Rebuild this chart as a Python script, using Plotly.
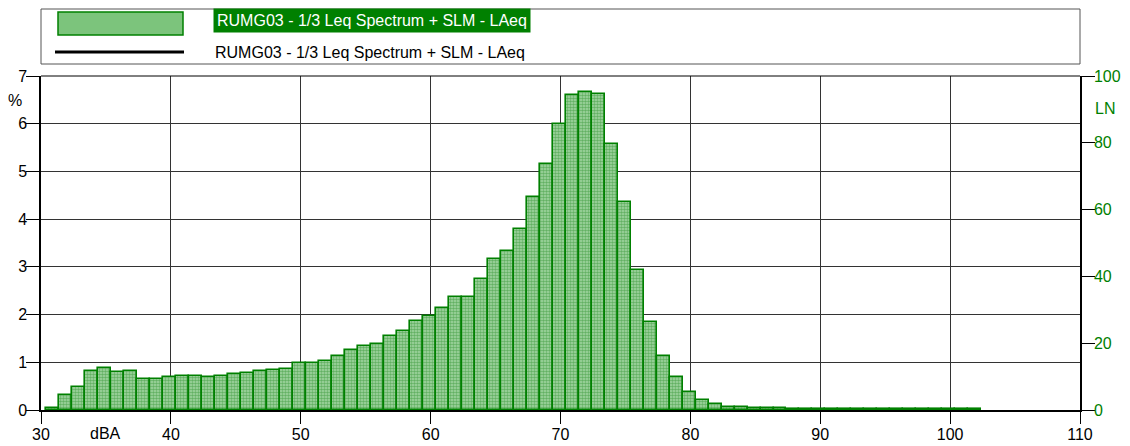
import plotly.graph_objects as go

# dBA level of each 1-dB class (bar drawn from level-0.6 to level+0.4)
levels_dba = list(range(31, 103))
percent = [
    0.04, 0.32, 0.49, 0.82, 0.87, 0.79, 0.82, 0.64, 0.64, 0.70,   # 31-40
    0.72, 0.71, 0.70, 0.71, 0.76, 0.78, 0.82, 0.84, 0.85, 0.98,   # 41-50
    0.98, 1.03, 1.13, 1.26, 1.34, 1.38, 1.55, 1.65, 1.86, 1.97,   # 51-60
    2.14, 2.36, 2.37, 2.74, 3.16, 3.33, 3.80, 4.46, 5.16, 6.00,   # 61-70
    6.60, 6.67, 6.62, 5.58, 4.35, 2.93, 1.84, 1.13, 0.70, 0.38,   # 71-80
    0.22, 0.13, 0.07, 0.06, 0.05, 0.04, 0.04, 0.03, 0.03, 0.03,   # 81-90
    0.02, 0.02, 0.02, 0.02, 0.02, 0.02, 0.02, 0.02, 0.02, 0.02,   # 91-100
    0.02, 0.02,                                                   # 101-102
]
series_name = "RUMG03 - 1/3 Leq Spectrum + SLM - LAeq"
x_ticks = [30, 40, 50, 60, 70, 80, 90, 100, 110]
y_ticks = [0, 1, 2, 3, 4, 5, 6, 7]
ln_ticks = [0, 20, 40, 60, 80, 100]

GREEN = "#008000"
FONT = "Liberation Sans, Arial, sans-serif"

W, H = 1130, 446
ML, MR, MT, MB = 41, 50, 76, 36
PW, PH = W - ML - MR, H - MT - MB


def px(x):
    return (x - ML) / PW


def py(y):
    return (H - MB - y) / PH


fig = go.Figure()
fig.add_trace(go.Bar(
    x=levels_dba, y=percent, width=1, offset=-0.6,
    marker=dict(
        color="#2a8f2a",
        line=dict(color=GREEN, width=1.6),
        pattern=dict(shape=".", fgcolor="#1f8a1f", bgcolor="#a6d8a6",
                     size=3, solidity=0.55),
    ),
    name=series_name, showlegend=False,
))
# invisible trace binding the right (LN) axis
fig.add_trace(go.Scatter(x=[30], y=[0], yaxis="y2", mode="markers",
                         marker=dict(opacity=0), showlegend=False,
                         hoverinfo="skip"))

fig.update_layout(
    width=W, height=H,
    margin=dict(l=ML, r=MR, t=MT, b=MB, autoexpand=False),
    paper_bgcolor="white", plot_bgcolor="white",
    font=dict(family=FONT, size=16, color="black"),
    bargap=0,
    xaxis=dict(range=[30, 110], tickvals=x_ticks, ticks="outside", ticklen=12,
               tickcolor="black", showgrid=True, gridcolor="#333333",
               gridwidth=1, showline=True, linecolor="black", linewidth=1.5,
               zeroline=False, automargin=False, ticklabelstandoff=-3,
               tickfont=dict(size=16)),
    yaxis=dict(range=[0, 7], tickvals=y_ticks, ticks="outside", ticklen=13,
               tickcolor="black", showgrid=True, gridcolor="#333333",
               gridwidth=1, showline=True, linecolor="black", linewidth=1.5,
               zeroline=False, automargin=False, ticklabelstandoff=-4,
               tickfont=dict(size=16)),
    yaxis2=dict(range=[0, 100], tickvals=ln_ticks, overlaying="y", side="right",
                ticks="outside", ticklen=13, tickcolor="black",
                showgrid=False, showline=True, linecolor="black", linewidth=1.5,
                zeroline=False, automargin=False, ticklabelstandoff=-4,
                tickfont=dict(size=16, color=GREEN)),
)

# top border line of plot
fig.add_shape(type="line", xref="paper", yref="paper", x0=0, x1=1, y0=1, y1=1,
              line=dict(color="black", width=1))

# legend box
fig.add_shape(type="rect", xref="paper", yref="paper",
              x0=0, x1=1, y0=py(64), y1=py(9),
              line=dict(color="#555555", width=1), fillcolor="white")
fig.add_shape(type="rect", xref="paper", yref="paper",
              x0=px(58), x1=px(183), y0=py(35), y1=py(12),
              line=dict(color=GREEN, width=1.5), fillcolor="#7cc47c")
fig.add_shape(type="line", xref="paper", yref="paper",
              x0=px(55), x1=px(184), y0=py(52), y1=py(52),
              line=dict(color="black", width=3))
fig.add_annotation(text=series_name, xref="paper", yref="paper",
                   x=px(213), y=py(20), xanchor="left", yanchor="middle",
                   showarrow=False, bgcolor=GREEN, borderpad=3,
                   font=dict(color="white", size=16))
fig.add_annotation(text=series_name, xref="paper", yref="paper",
                   x=px(213), y=py(52), xanchor="left", yanchor="middle",
                   showarrow=False, font=dict(color="black", size=16))

# axis unit labels
fig.add_annotation(text="%", xref="paper", yref="paper", x=px(15), y=py(100),
                   xanchor="center", yanchor="middle",
                   showarrow=False, font=dict(size=16))
fig.add_annotation(text="LN", xref="paper", yref="paper", x=px(1093), y=py(109),
                   xanchor="left", yanchor="middle",
                   showarrow=False, font=dict(size=16, color=GREEN))
fig.add_annotation(text="dBA", xref="x", yref="paper", x=35, y=py(434),
                   xanchor="center", yanchor="middle",
                   showarrow=False, font=dict(size=16))

fig.write_html("out.html")
